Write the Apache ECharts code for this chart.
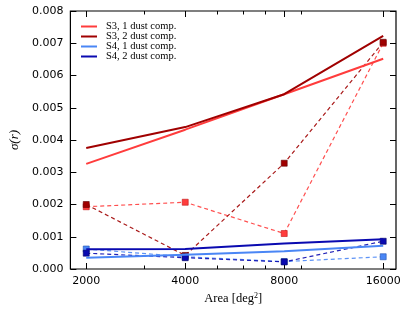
<!DOCTYPE html>
<html><head><meta charset="utf-8">
<script src="https://cdn.jsdelivr.net/npm/echarts@6/dist/echarts.min.js"></script>
<style>html,body{margin:0;padding:0;background:#fff}#c{width:407px;height:312px}</style>
</head><body><div id="c"></div>
<script>
const areas = [2000, 4000, 8000, 16000];
const minorAreas = [3000, 5000, 6000, 7000, 9000];
const yTicks = [0, 0.001, 0.002, 0.003, 0.004, 0.005, 0.006, 0.007, 0.008];
const names = ['S3, 1 dust comp.', 'S3, 2 dust comp.', 'S4, 1 dust comp.', 'S4, 2 dust comp.'];
const colors = ['#ff3c3c', '#a00000', '#4a86f5', '#0a0ab0'];
const edgeColors = ['#c01818', '#600000', '#2050b0', '#000060'];
// solid lines
const s3one = [0.00326, 0.00432, 0.00542, 0.00652];
const s3two = [0.00375, 0.00440, 0.00542, 0.00723];
const s4one = [0.00035, 0.00044, 0.00055, 0.00072];
const s4two = [0.00061, 0.00062, 0.00079, 0.00092];
// dashed lines with markers
const s3oneD = [0.00193, 0.00207, 0.00110, 0.00700];
const s3twoD = [0.00200, 0.00042, 0.00328, 0.00703];
const s4oneD = [0.00062, 0.00038, 0.00023, 0.00038];
const s4twoD = [0.00049, 0.00035, 0.00022, 0.00086];

const lg = v => Math.log2(v);
const pts = arr => arr.map((v, i) => [lg(areas[i]), v]);
const xMin = lg(1790), xMax = lg(17500);

function solid(i, data) {
  return { name: names[i], type: 'line', data: pts(data), showSymbol: false, symbol: 'none',
    lineStyle: { color: colors[i], width: 2 }, itemStyle: { color: colors[i] }, z: 3, animation: false };
}
function dashed(i, data) {
  return { name: names[i] + ' pts', type: 'line', data: pts(data), symbol: 'rect', symbolSize: 6,
    lineStyle: { color: colors[i], width: 1.2, type: [4, 3], opacity: 0.9 },
    itemStyle: { color: colors[i], borderColor: edgeColors[i], borderWidth: 0.6 }, z: 2, animation: false };
}
const baseX = (extra) => Object.assign({ type: 'value', min: xMin, max: xMax, gridIndex: 0,
  splitLine: { show: false }, axisLine: { show: false } }, extra);

const chart = echarts.init(document.getElementById('c'), null, { renderer: 'canvas' });
chart.setOption({
  animation: false,
  grid: { left: 63, right: 11, top: 11, bottom: 43, show: true, borderColor: '#000', borderWidth: 1.2 },
  legend: {
    data: names, left: 76, top: 16, orient: 'vertical', itemWidth: 16, itemHeight: 2, itemGap: -1,
    icon: 'rect',
    textStyle: { fontFamily: 'Liberation Serif', fontSize: 10.5, color: '#000', lineHeight: 9.7, padding: [0, 0, 0, 4] }
  },
  xAxis: [
    baseX({ position: 'bottom',
      axisTick: { show: true, inside: true, length: 6, customValues: areas.map(lg), lineStyle: { color: '#000' } },
      axisLabel: { show: true, customValues: areas.map(lg), formatter: v => String(Math.round(Math.pow(2, v))),
        fontFamily: 'DejaVu Sans', fontSize: 11, color: '#000', margin: 7 },
      name: 'Area [deg{sup|2}]', nameLocation: 'middle', nameGap: 23,
      nameTextStyle: { fontFamily: 'Liberation Serif', fontSize: 12.5, color: '#000',
        rich: { sup: { fontFamily: 'Liberation Serif', fontSize: 8, verticalAlign: 'top', padding: [0, 0, 5, 0] } } } }),
    baseX({ position: 'bottom',
      axisTick: { show: true, inside: true, length: 3.5, customValues: minorAreas.map(lg), lineStyle: { color: '#000' } },
      axisLabel: { show: false } }),
    baseX({ position: 'top',
      axisTick: { show: true, inside: true, length: 6, customValues: areas.map(lg), lineStyle: { color: '#000' } },
      axisLabel: { show: false } }),
    baseX({ position: 'top',
      axisTick: { show: true, inside: true, length: 3.5, customValues: minorAreas.map(lg), lineStyle: { color: '#000' } },
      axisLabel: { show: false } })
  ],
  yAxis: [
    { type: 'value', min: 0, max: 0.008, interval: 0.001, position: 'left',
      splitLine: { show: false }, axisLine: { show: false },
      axisTick: { show: true, inside: true, length: 6, lineStyle: { color: '#000' } },
      axisLabel: { formatter: v => v.toFixed(3), fontFamily: 'DejaVu Sans', fontSize: 11, color: '#000', margin: 7 },
      name: 'σ(r)', nameLocation: 'middle', nameGap: 48, nameRotate: 90,
      nameTextStyle: { fontFamily: 'Liberation Serif', fontStyle: 'italic', fontSize: 13, color: '#000' } },
    { type: 'value', min: 0, max: 0.008, interval: 0.001, position: 'right',
      splitLine: { show: false }, axisLine: { show: false },
      axisTick: { show: true, inside: true, length: 6, lineStyle: { color: '#000' } },
      axisLabel: { show: false } }
  ],
  series: [
    solid(0, s3one), solid(1, s3two), solid(2, s4one), solid(3, s4two),
    dashed(0, s3oneD), dashed(1, s3twoD), dashed(2, s4oneD), dashed(3, s4twoD)
  ]
});
</script></body></html>
